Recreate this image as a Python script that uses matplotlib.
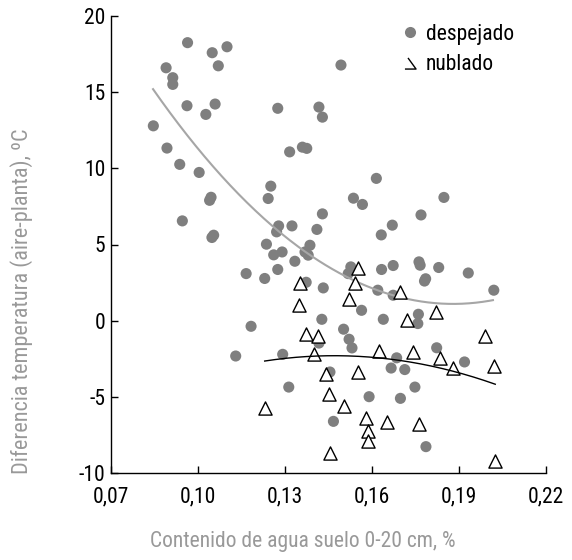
import numpy as np
import matplotlib
matplotlib.use('Agg')
import matplotlib.pyplot as plt
from matplotlib.path import Path
from matplotlib.lines import Line2D

plt.rcParams['font.family'] = ['Roboto Condensed', 'DejaVu Sans']
plt.rcParams['font.stretch'] = 'condensed'

# ---- data ----
desp_x = [0.0964, 0.1049, 0.1100, 0.1070, 0.0890, 0.0913, 0.0913, 0.0962, 0.1059, 0.1027,
          0.0846, 0.0893, 0.0937, 0.1004, 0.1045, 0.1040, 0.1493, 0.1275, 0.1417, 0.1429,
          0.1316, 0.1360, 0.1375, 0.1251, 0.1242, 0.1536, 0.1567, 0.0946, 0.1054, 0.1048,
          0.1429, 0.1278, 0.1271, 0.1324, 0.1410, 0.1236, 0.1261, 0.1290, 0.1386, 0.1369,
          0.1380, 0.1334, 0.1275, 0.1166, 0.1230, 0.1373, 0.1432, 0.1527, 0.1518, 0.1615,
          0.1848, 0.1769, 0.1670, 0.1632, 0.1633, 0.1673, 0.1762, 0.1766, 0.1830, 0.1932,
          0.1785, 0.1781, 0.1620, 0.1673, 0.2020, 0.1564, 0.1639, 0.1760, 0.1758, 0.1427,
          0.1183, 0.1502, 0.1521, 0.1531, 0.1417, 0.1130, 0.1292, 0.1455, 0.1313, 0.1467,
          0.1823, 0.1919, 0.1685, 0.1666, 0.1713, 0.1748, 0.1590, 0.1698, 0.1786]
desp_y = [18.25, 17.59, 17.98, 16.73, 16.60, 15.95, 15.51, 14.11, 14.22, 13.54,
          12.79, 11.33, 10.26, 9.73, 8.10, 7.90, 16.78, 13.94, 14.02, 13.36,
          11.08, 11.39, 11.31, 8.83, 8.02, 8.04, 7.63, 6.55, 5.61, 5.46,
          7.01, 6.22, 5.83, 6.22, 5.99, 5.02, 4.32, 4.51, 4.95, 4.51,
          4.30, 3.90, 3.36, 3.09, 2.77, 2.52, 2.15, 3.53, 3.09, 9.34,
          8.09, 6.94, 6.27, 5.63, 3.36, 3.62, 3.86, 3.64, 3.49, 3.13,
          2.75, 2.60, 2.00, 1.67, 2.00, 0.68, 0.09, 0.42, -0.19, 0.09,
          -0.37, -0.56, -1.22, -1.79, -1.47, -2.32, -2.21, -3.37, -4.36, -6.61,
          -1.78, -2.71, -2.44, -3.11, -3.21, -4.36, -4.99, -5.10, -8.27]

nub_x = [0.1550, 0.1541, 0.1521, 0.1352, 0.1347, 0.1698, 0.1719, 0.1821, 0.1988, 0.1371,
         0.1414, 0.1401, 0.1440, 0.1553, 0.1452, 0.1502, 0.1230, 0.1455, 0.1624, 0.1742,
         0.1833, 0.1878, 0.2022, 0.1579, 0.1587, 0.1586, 0.1653, 0.1763, 0.2025]
nub_y = [3.49, 2.49, 1.44, 2.44, 1.01, 1.89, 0.03, 0.57, -1.00, -0.89,
         -1.00, -2.19, -3.48, -3.37, -4.84, -5.62, -5.71, -8.67, -1.96, -2.08,
         -2.44, -3.13, -3.00, -6.38, -7.23, -7.92, -6.68, -6.79, -9.24]

# quadratic trend lines y = a*(x-h)^2 + k, drawn over [x0, x1]
desp_trend = [1316.0, 0.188, 1.1, 0.0845, 0.2017]
nub_trend = [-608.0, 0.147, -2.3, 0.123, 0.2025]

x_ticks = [0.07, 0.10, 0.13, 0.16, 0.19, 0.22]
x_tick_labels = ['0,07', '0,10', '0,13', '0,16', '0,19', '0,22']
y_ticks = [-10, -5, 0, 5, 10, 15, 20]
y_tick_labels = ['-10', '-5', '0', '5', '10', '15', '20']

series_names = ['despejado', 'nublado']
x_label = 'Contenido de agua suelo 0-20 cm, %'
y_label = 'Diferencia temperatura (aire-planta), ºC'

# ---- figure ----
W, H = 572, 560
fig = plt.figure(figsize=(W / 100, H / 100), dpi=100)
ax = fig.add_axes([111 / W, 1 - 473 / H, (546 - 111) / W, (473 - 16) / H])

gray = '#7f7f7f'
ax.scatter(desp_x, desp_y, s=64, color=gray, edgecolors='none', zorder=2)

def trend(p):
    a, h, k, x0, x1 = p
    xs = np.linspace(x0, x1, 200)
    return xs, a * (xs - h) ** 2 + k

tx, ty = trend(desp_trend)
ax.plot(tx, ty, color='#a6a6a6', lw=1.5, zorder=3)

ax.scatter(nub_x, nub_y, s=90, marker='^', facecolors='white', edgecolors='black',
           linewidths=1.0, zorder=4)
tx, ty = trend(nub_trend)
ax.plot(tx, ty, color='black', lw=1.0, zorder=5)

ax.set_xlim(0.07, 0.22)
ax.set_ylim(-10, 20)
ax.set_xticks(x_ticks)
ax.set_xticklabels(x_tick_labels)
ax.set_yticks(y_ticks)
ax.set_yticklabels(y_tick_labels)
for s in ['top', 'right']:
    ax.spines[s].set_visible(False)
for s in ['left', 'bottom']:
    ax.spines[s].set_linewidth(1.0)
ax.tick_params(axis='both', direction='in', length=5, width=1.0, labelsize=15.5,
               colors='black')
ax.tick_params(axis='x', pad=10)
ax.tick_params(axis='y', pad=4)

fig.text(303 / W, 1 - 542 / H, x_label, ha='center', va='center', fontsize=15.5,
         color='#999999')
fig.text(22 / W, 1 - 301 / H, y_label, ha='center', va='center', rotation=90,
         fontsize=16, color='#999999')

# legend
tri_half = Path([(-1, -1), (1, -1), (-0.45, 1)],
                [Path.MOVETO, Path.LINETO, Path.LINETO])
handles = [Line2D([], [], ls='none', marker='o', ms=8, color=gray, mec='none'),
           Line2D([], [], ls='none', marker=tri_half, ms=8, mfc='none', mec='black',
                  mew=1.0)]
ax.legend(handles, series_names, loc='upper left', bbox_to_anchor=(399 / W, 0.958),
          bbox_transform=fig.transFigure, frameon=False, fontsize=15.5,
          handlelength=1.0, handletextpad=0.25, labelspacing=0.45, borderpad=0,
          borderaxespad=0)

fig.savefig('out.png', dpi=100)
